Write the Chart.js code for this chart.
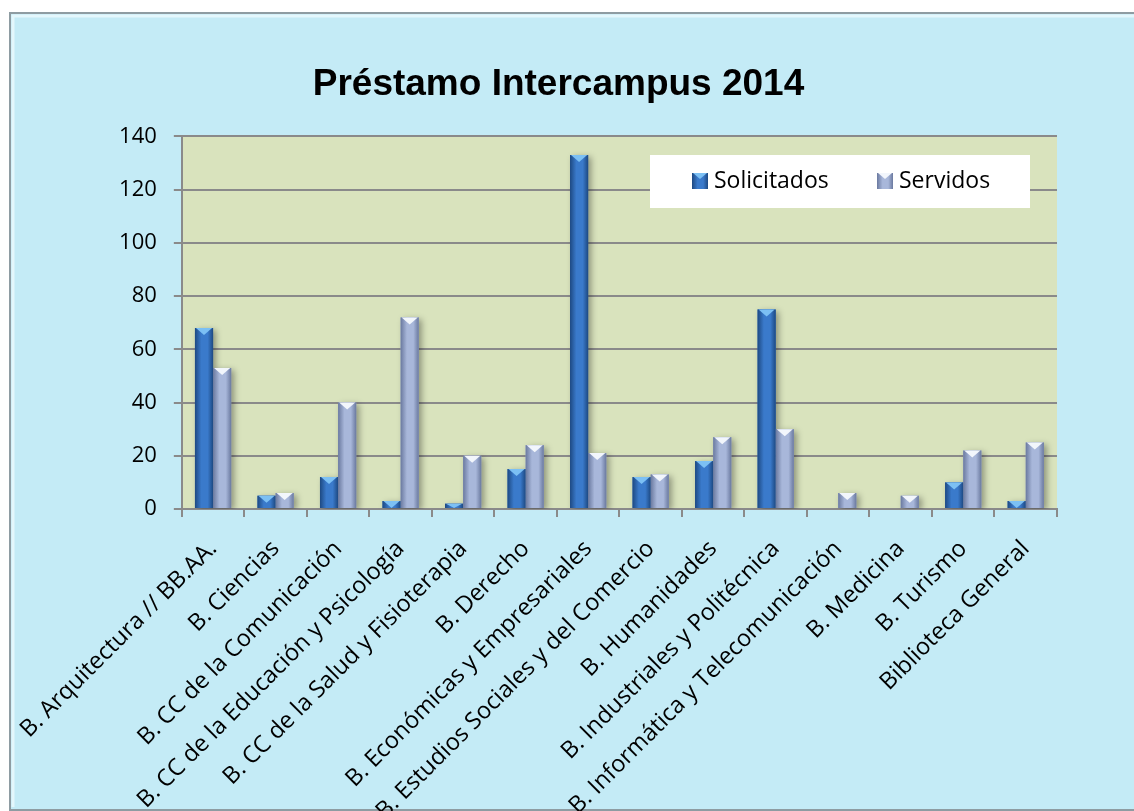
<!DOCTYPE html>
<html>
<head>
<meta charset="utf-8">
<script src="https://cdn.jsdelivr.net/npm/chart.js@4"></script>
<style>
html, body { margin: 0; padding: 0; background: #ffffff; }
canvas { display: block; }
</style>
</head>
<body>
<canvas id="chart" width="1134" height="811"></canvas>
<script>
const categories = [
	"B. Arquitectura // BB.AA.",
	"B. Ciencias",
	"B. CC de la Comunicación",
	"B. CC de la Educación y Psicología",
	"B. CC de la Salud y Fisioterapia",
	"B. Derecho",
	"B. Económicas y Empresariales",
	"B. Estudios Sociales y del Comercio",
	"B. Humanidades",
	"B. Industriales y Politécnica",
	"B. Informática y Telecomunicación",
	"B. Medicina",
	"B. Turismo",
	"Biblioteca General",
];
const solicitados = [68, 5, 12, 3, 2, 15, 133, 12, 18, 75, 0, 0, 10, 3];
const servidos = [53, 6, 40, 72, 20, 24, 21, 13, 27, 30, 6, 5, 22, 25];
const seriesNames = ["Solicitados", "Servidos"];
const yTicks = [0, 20, 40, 60, 80, 100, 120, 140];

const fontFamily = "'Open Sans', 'Noto Sans', sans-serif";
const gridGray = "#8a8a8a";

// colours for the shaded bars: [edge, centre, top highlight]
const shades = [
	["#1d4982", "#3a7acb", "#7cc0f4"],
	["#6a799f", "#a8b7da", "#f2f6fc"],
];

function barGradient(ctx, left, width, s) {
	const g = ctx.createLinearGradient(left, 0, left + width, 0);
	g.addColorStop(0, s[0]);
	g.addColorStop(0.35, s[1]);
	g.addColorStop(0.7, s[1]);
	g.addColorStop(1, s[0]);
	return g;
}

const framePlugin = {
	id: "frame",
	beforeDraw(chart) {
		const ctx = chart.ctx;
		const a = chart.chartArea;
		ctx.save();
		ctx.fillStyle = "#ffffff";
		ctx.fillRect(0, 0, chart.width, chart.height);
		ctx.fillStyle = "#c4ebf6";
		ctx.fillRect(10, 13, chart.width, chart.height - 13);
		ctx.strokeStyle = "#8e9ca2";
		ctx.lineWidth = 2;
		ctx.strokeRect(10, 13, chart.width + 10, chart.height - 14);
		ctx.strokeStyle = "#e4f7fc";
		ctx.lineWidth = 3;
		ctx.beginPath();
		ctx.moveTo(13, chart.height - 4);
		ctx.lineTo(13, 16);
		ctx.lineTo(chart.width, 16);
		ctx.stroke();
		ctx.fillStyle = "#d9e3bd";
		ctx.fillRect(a.left, a.top, a.right - a.left, a.bottom - a.top);
		ctx.restore();
	},
};

const barLookPlugin = {
	id: "barLook",
	beforeDatasetsDraw(chart) {
		const ctx = chart.ctx;
		ctx.save();
		ctx.shadowColor = "rgba(0,0,0,0.35)";
		ctx.shadowBlur = 6;
		ctx.shadowOffsetX = 3;
		ctx.shadowOffsetY = 2;
	},
	afterDatasetsDraw(chart) {
		const ctx = chart.ctx;
		ctx.restore();
		ctx.save();
		chart.data.datasets.forEach((ds, di) => {
			const meta = chart.getDatasetMeta(di);
			const s = shades[di];
			meta.data.forEach((el) => {
				const p = el.getProps(["x", "y", "base", "width"], true);
				const h = p.base - p.y;
				if (h < 1) return;
				const left = p.x - p.width / 2;
				ctx.fillStyle = barGradient(ctx, left, p.width, s);
				ctx.fillRect(left, p.y, p.width, h);
				const th = Math.min(7, h);
				ctx.fillStyle = s[2];
				ctx.beginPath();
				ctx.moveTo(left + 1, p.y);
				ctx.lineTo(left + p.width - 1, p.y);
				ctx.lineTo(p.x, p.y + th);
				ctx.closePath();
				ctx.fill();
			});
		});
		ctx.restore();
	},
};

const legendPlugin = {
	id: "boxLegend",
	afterDraw(chart) {
		const ctx = chart.ctx;
		ctx.save();
		ctx.fillStyle = "#ffffff";
		ctx.fillRect(650, 155, 380, 53);
		ctx.font = "23px " + fontFamily;
		ctx.textBaseline = "middle";
		const spots = [692, 877];
		seriesNames.forEach((name, i) => {
			const x = spots[i];
			ctx.fillStyle = barGradient(ctx, x, 16, shades[i]);
			ctx.fillRect(x, 173, 16, 16);
			ctx.fillStyle = shades[i][2];
			ctx.beginPath();
			ctx.moveTo(x + 1, 173);
			ctx.lineTo(x + 15, 173);
			ctx.lineTo(x + 8, 179);
			ctx.closePath();
			ctx.fill();
			ctx.fillStyle = "#000000";
			ctx.fillText(name, x + 22, 181);
		});
		ctx.restore();
	},
};

new Chart(document.getElementById("chart"), {
	type: "bar",
	data: {
		labels: categories,
		datasets: [
			{
				label: seriesNames[0],
				data: solicitados,
				backgroundColor: shades[0][1],
				barPercentage: 1,
				categoryPercentage: 0.58,
			},
			{
				label: seriesNames[1],
				data: servidos,
				backgroundColor: shades[1][1],
				barPercentage: 1,
				categoryPercentage: 0.58,
			},
		],
	},
	plugins: [framePlugin, barLookPlugin, legendPlugin],
	options: {
		responsive: false,
		animation: false,
		layout: { padding: { left: 60, right: 77, top: 0, bottom: 0 } },
		plugins: {
			legend: { display: false },
			tooltip: { enabled: false },
			title: {
				display: true,
				text: "Préstamo Intercampus 2014",
				color: "#000000",
				font: { family: "'Liberation Sans', Arial, sans-serif", size: 37, weight: "bold", lineHeight: 1.2 },
				padding: { top: 63, bottom: 29 },
			},
		},
		scales: {
			x: {
				grid: {
					drawOnChartArea: false,
					offset: true,
					tickLength: 8,
					color: gridGray,
					lineWidth: 2,
				},
				border: { color: gridGray, width: 2 },
				ticks: {
					color: "#000000",
					font: { family: fontFamily, size: 23.5 },
					minRotation: 45,
					maxRotation: 45,
					autoSkip: false,
					padding: 18,
				},
				afterFit(scale) {
					scale.height = 302;
				},
			},
			y: {
				min: 0,
				max: yTicks[yTicks.length - 1],
				afterBuildTicks(scale) {
					scale.ticks = yTicks.map((v) => ({ value: v }));
				},
				grid: { color: gridGray, lineWidth: 2, tickLength: 8 },
				border: { color: gridGray, width: 2 },
				ticks: { color: "#000000", font: { family: fontFamily, size: 22 }, padding: 17 },
				afterFit(scale) {
					scale.width = 120;
				},
			},
		},
	},
});
</script>
</body>
</html>
